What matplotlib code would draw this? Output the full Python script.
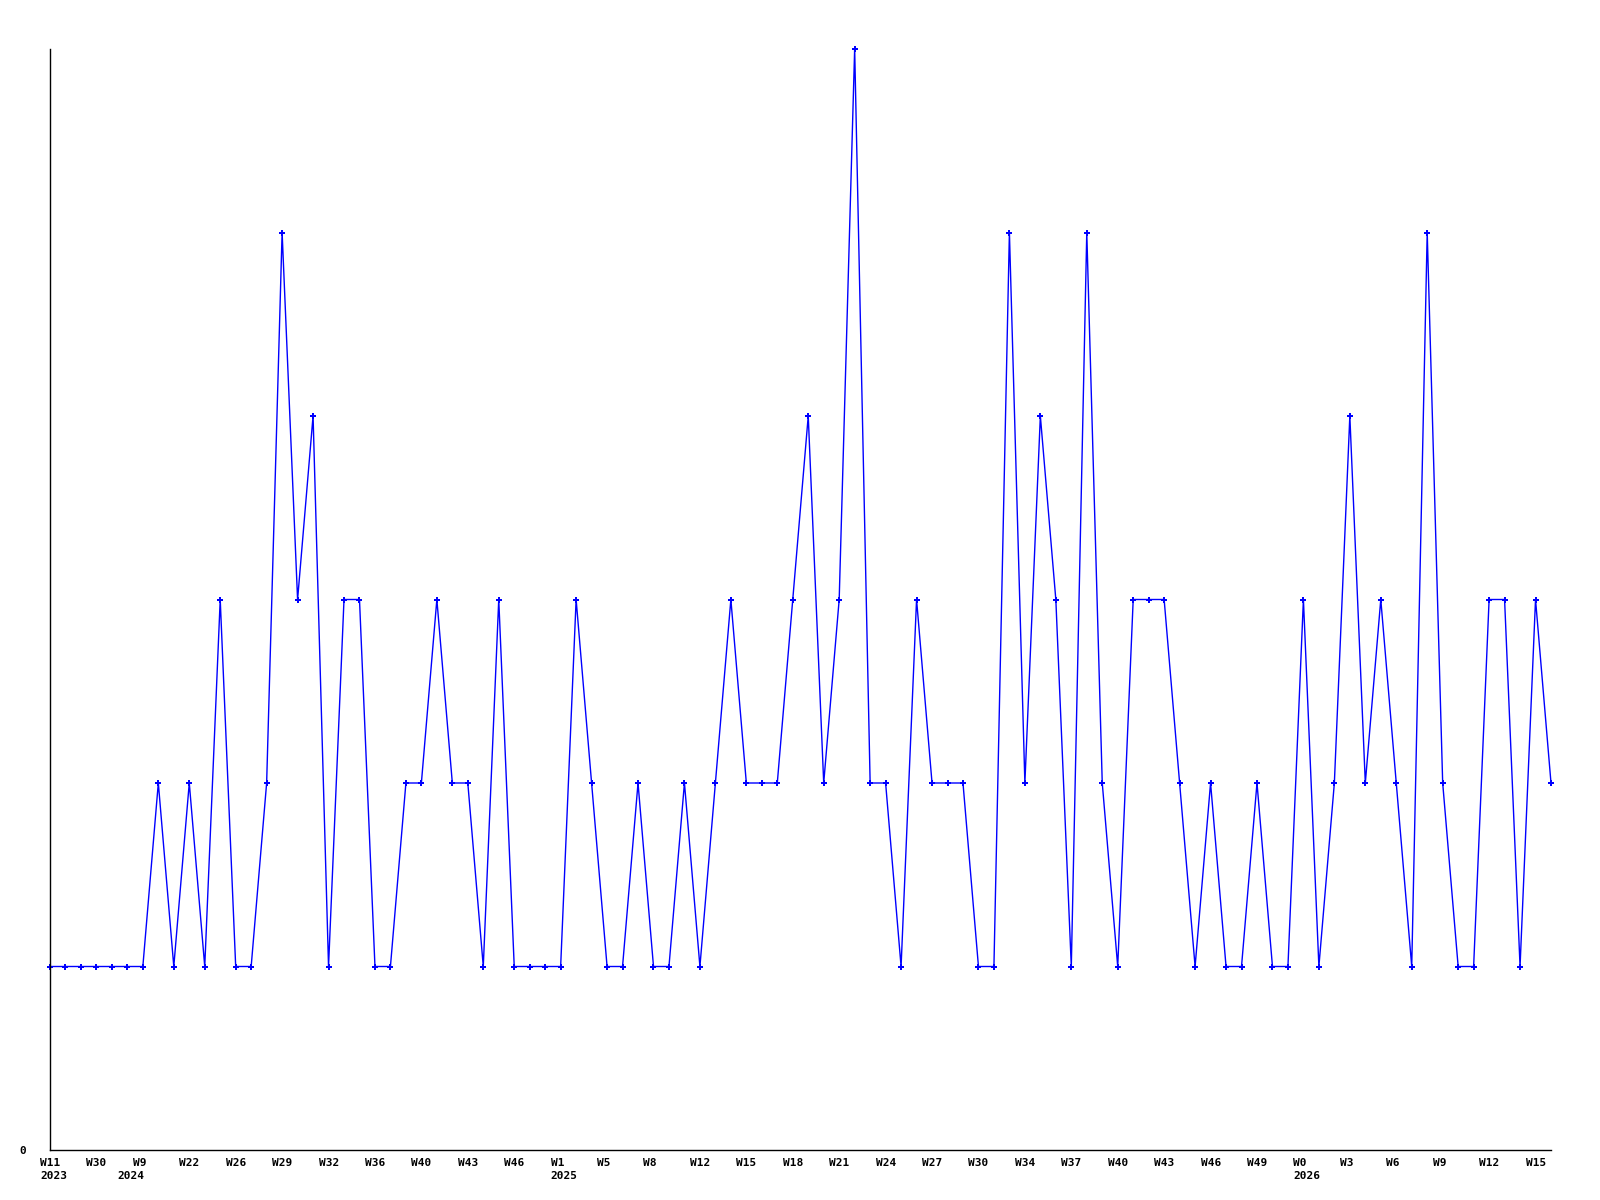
import matplotlib
matplotlib.use("Agg")
import matplotlib.pyplot as plt
import matplotlib.transforms as mtransforms

# ---- data ----
values = [1, 1, 1, 1, 1, 1, 1, 2, 1, 2,
          1, 3, 1, 1, 2, 5, 3, 4, 1, 3,
          3, 1, 1, 2, 2, 3, 2, 2, 1, 3,
          1, 1, 1, 1, 3, 2, 1, 1, 2, 1,
          1, 2, 1, 2, 3, 2, 2, 2, 3, 4,
          2, 3, 6, 2, 2, 1, 3, 2, 2, 2,
          1, 1, 5, 2, 4, 3, 1, 5, 2, 1,
          3, 3, 3, 2, 1, 2, 1, 1, 2, 1,
          1, 3, 1, 2, 4, 2, 3, 2, 1, 5,
          2, 1, 1, 3, 3, 1, 3, 2]
week_labels = ["W11", "W30", "W9", "W22", "W26", "W29", "W32", "W36", "W40", "W43",
               "W46", "W1", "W5", "W8", "W12", "W15", "W18", "W21", "W24", "W27",
               "W30", "W34", "W37", "W40", "W43", "W46", "W49", "W0", "W3", "W6",
               "W9", "W12", "W15"]
year_labels = ["2023", "2024", "2025", "2026"]
year_index = [0, 5, 33, 81]

fig = plt.figure(figsize=(16, 12), dpi=100)
ax = fig.add_axes([50 / 1600, 1 - 1150 / 1200, 1501 / 1600, (1150 - 49) / 1200])

xs = list(range(len(values)))
ax.plot(xs, values, color="#0000ff", linewidth=1.0, marker="P", markersize=4,
        markeredgewidth=0, clip_on=False)

ax.set_xlim(0, len(values) - 1)
ax.set_ylim(0, 6)

for s in ["top", "right"]:
    ax.spines[s].set_visible(False)
for s in ["left", "bottom"]:
    ax.spines[s].set_color("black")
    ax.spines[s].set_linewidth(1.0)

font = dict(family="DejaVu Sans Mono", weight="bold", size=8)

ax.set_yticks([0])
ax.set_yticklabels(["0"], **font)
ax.tick_params(axis="y", length=0, pad=17)

tick_pos = list(range(0, len(values), 3))[:len(week_labels)]
ax.set_xticks(tick_pos)
ax.set_xticklabels(week_labels, **font)
ax.tick_params(axis="x", length=0, pad=6)
offset = mtransforms.ScaledTranslation(-10 / 100, 0, fig.dpi_scale_trans)
for lab in ax.get_xticklabels():
    lab.set_horizontalalignment("left")
    lab.set_transform(lab.get_transform() + offset)

ytrans = mtransforms.blended_transform_factory(ax.transData, ax.transAxes)
yoff = mtransforms.ScaledTranslation(-10 / 100, -21 / 100, fig.dpi_scale_trans)
for lbl, idx in zip(year_labels, year_index):
    ax.text(idx, 0, lbl, transform=ytrans + yoff, ha="left", va="top", **font)

fig.savefig("out.png", dpi=100, facecolor="white")
